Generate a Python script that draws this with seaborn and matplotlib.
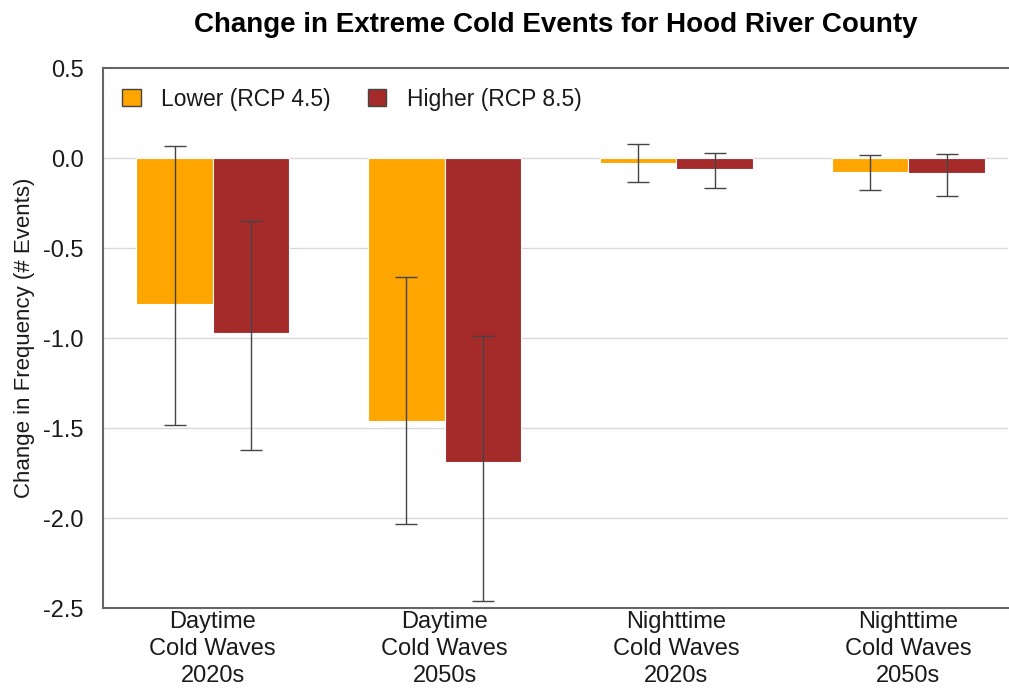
import pandas as pd
import seaborn as sns
import matplotlib.pyplot as plt
import numpy as np

# Data
categories = ['Daytime\nCold Waves\n2020s', 'Daytime\nCold Waves\n2050s',
              'Nighttime\nCold Waves\n2020s', 'Nighttime\nCold Waves\n2050s']
scenarios = ['Lower (RCP 4.5)', 'Higher (RCP 8.5)']
lower_mean = [-0.81, -1.46, -0.025, -0.075]
higher_mean = [-0.97, -1.69, -0.06, -0.085]
lower_low = [-1.48, -2.03, -0.13, -0.175]
lower_high = [0.07, -0.66, 0.08, 0.017]
higher_low = [-1.62, -2.46, -0.165, -0.21]
higher_high = [-0.35, -0.99, 0.026, 0.022]
yticks = [0.5, 0.0, -0.5, -1.0, -1.5, -2.0, -2.5]

colors = ['#FFA500', '#A52A2A']

sns.set_style("white")
plt.rcParams['font.family'] = ['Liberation Sans', 'DejaVu Sans']
plt.rcParams['axes.unicode_minus'] = False
plt.rcParams['text.color'] = '#1a1a1a'
plt.rcParams['xtick.color'] = '#1a1a1a'
plt.rcParams['ytick.color'] = '#1a1a1a'
plt.rcParams['axes.labelcolor'] = '#1a1a1a'

df = pd.DataFrame({
    'category': categories * 2,
    'scenario': [scenarios[0]] * 4 + [scenarios[1]] * 4,
    'value': lower_mean + higher_mean,
})

fig = plt.figure(figsize=(10.09, 6.88), dpi=100)
ax = fig.add_axes([0.102, 0.116, 0.897, 0.785])

sns.barplot(data=df, x='category', y='value', hue='scenario', palette=colors,
            width=0.66, errorbar=None, edgecolor='white', linewidth=0.8,
            saturation=1, legend=False, ax=ax, zorder=2)

# asymmetric error bars at the bar centres
lows = [lower_low, higher_low]
highs = [lower_high, higher_high]
means = [lower_mean, higher_mean]
bar_conts = list(ax.containers)
for i, cont in enumerate(bar_conts):
    xs = [b.get_x() + b.get_width() / 2 for b in cont]
    m = np.array(means[i])
    err = [m - np.array(lows[i]), np.array(highs[i]) - m]
    ax.errorbar(xs, m, yerr=err, fmt='none', ecolor='#444444', elinewidth=1,
                capsize=8, capthick=1, zorder=3)

ax.set_ylim(-2.5, 0.5)
ax.set_xlim(-0.474, 3.43)
ax.set_yticks(yticks)
ax.set_yticklabels([f'{t:.1f}' for t in yticks])
for t in yticks[1:-1]:
    ax.axhline(t, color='#d9d9d9', linewidth=1, zorder=1)

for s in ['left', 'bottom', 'top']:
    ax.spines[s].set_color('#666666')
    ax.spines[s].set_linewidth(1.5)
ax.spines['right'].set_visible(False)
ax.tick_params(axis='y', length=9, color='#666666', width=1.2, labelsize=17, pad=5)
ax.tick_params(axis='x', length=0, labelsize=17, pad=2)
for lab in ax.get_xticklabels():
    lab.set_linespacing(1.3)

ax.set_xlabel('')
ax.set_ylabel('Change in Frequency (# Events)', fontsize=16, labelpad=6)
ax.set_title('Change in Extreme Cold Events for Hood River County',
             fontsize=20, fontweight='bold', pad=26, color='black')

handles = [plt.Rectangle((0, 0), 1, 1, facecolor=c, edgecolor='#444444', linewidth=1)
           for c in colors]
ax.legend(handles, scenarios, loc='upper left', ncol=2, frameon=False, fontsize=16.5,
          handlelength=0.8, handleheight=0.8, handletextpad=0.9, columnspacing=1.6,
          bbox_to_anchor=(0.0, 1.0), borderaxespad=0.45)

plt.savefig('out.png', dpi=100)
